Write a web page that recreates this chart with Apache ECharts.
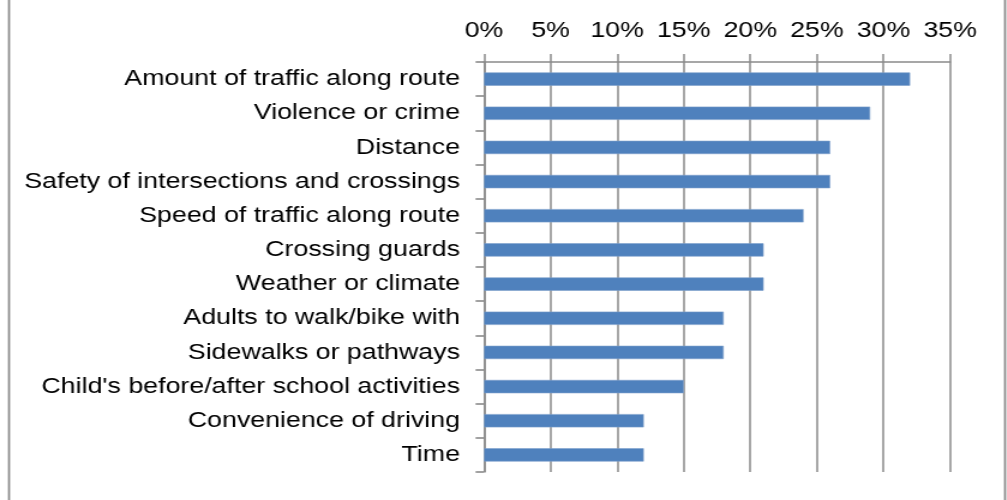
<!DOCTYPE html>
<html>
<head>
<meta charset="utf-8">
<script src="https://cdn.jsdelivr.net/npm/echarts@6/dist/echarts.min.js"></script>
<style>
  html, body { margin: 0; padding: 0; background: #fff; overflow: hidden; }
  /* The chart is laid out in a narrower box and widened, giving the broad lettering */
  #chart { width: 839px; height: 500px; transform: scaleX(1.2); transform-origin: 0 0; }
</style>
</head>
<body>
<div id="chart"></div>
<script>
// Concerns listed top to bottom
const categories = [
  'Amount of traffic along route',
  'Violence or crime',
  'Distance',
  'Safety of intersections and crossings',
  'Speed of traffic along route',
  'Crossing guards',
  'Weather or climate',
  'Adults to walk/bike with',
  'Sidewalks or pathways',
  "Child's before/after school activities",
  'Convenience of driving',
  'Time'
];
// Share of respondents, percent
const shares = [32, 29, 26, 26, 24, 21, 21, 18, 18, 15, 12, 12];
const axisMin = 0, axisMax = 35, axisStep = 5;

const gray = '#8A8A8A';
const font = 'Liberation Sans, Arial, sans-serif';

const chart = echarts.init(document.getElementById('chart'), null, { renderer: 'canvas' });
chart.setOption({
  animation: false,
  backgroundColor: '#fff',
  grid: { left: 403.3, right: 47.3, top: 62, bottom: 28, containLabel: false },
  xAxis: {
    type: 'value',
    position: 'top',
    min: axisMin, max: axisMax, interval: axisStep,
    axisLine: { show: true, lineStyle: { color: gray, width: 1.6 } },
    axisTick: { show: true, length: 8, lineStyle: { color: gray, width: 1.5 } },
    splitLine: { show: true, lineStyle: { color: gray, width: 1.5 } },
    axisLabel: {
      formatter: v => v + '%',
      color: '#000', fontSize: 22.3, fontFamily: font, margin: 20
    }
  },
  yAxis: {
    type: 'category',
    data: categories,
    inverse: true,
    axisLine: { show: true, lineStyle: { color: gray, width: 1.5 } },
    axisTick: { show: true, length: 7, alignWithLabel: false, lineStyle: { color: gray, width: 1.6 } },
    splitLine: { show: false },
    axisLabel: { color: '#000', fontSize: 22.3, fontFamily: font, margin: 20 }
  },
  series: [{
    type: 'bar',
    data: shares,
    barWidth: '39%',
    itemStyle: { color: '#4F81BD', borderColor: '#7E9FCB', borderWidth: 0.6 }
  }],
  graphic: [
    { type: 'line', shape: { x1: 7.5, y1: 0, x2: 7.5, y2: 500 }, style: { stroke: gray, lineWidth: 1.7 } },
    { type: 'line', shape: { x1: 837.5, y1: 0, x2: 837.5, y2: 500 }, style: { stroke: gray, lineWidth: 1.7 } }
  ]
});
</script>
</body>
</html>
